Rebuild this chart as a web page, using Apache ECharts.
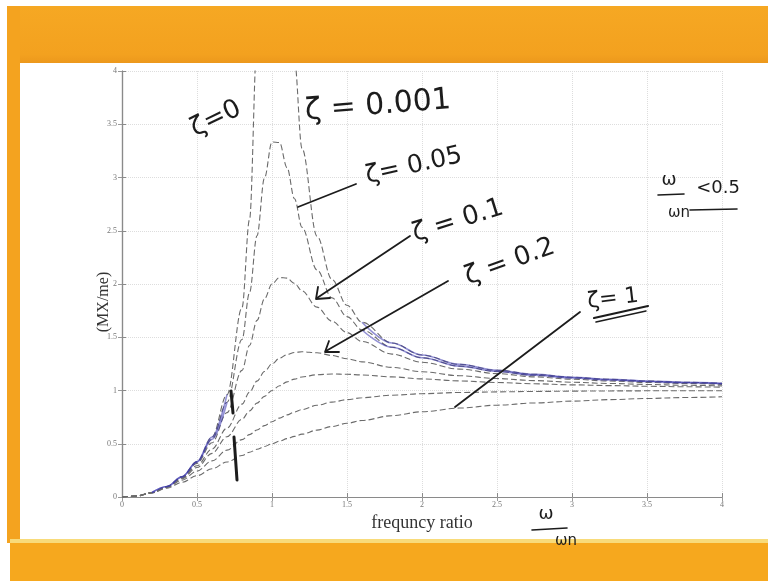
<!DOCTYPE html>
<html>
<head>
<meta charset="utf-8">
<script src="https://cdn.jsdelivr.net/npm/echarts@6/dist/echarts.min.js"></script>
<style>html,body{margin:0;padding:0;background:#fff;}#c{width:768px;height:581px;}</style>
</head>
<body>
<div id="c"></div>
<script>
// frequency ratio samples (x)
const ratio = [0,0.1,0.2,0.3,0.4,0.5,0.6,0.7,0.8,0.85,0.9,0.95,1.0,1.05,1.1,1.15,1.2,1.3,1.4,1.5,1.6,1.8,2.0,2.25,2.5,2.75,3.0,3.25,3.5,3.75,4.0];
// MX/me
const zeta0   = [0,0.010,0.042,0.099,0.190,0.333,0.563,0.961,1.778,2.604, 4.263,9.26,null,10.76,5.762,4.101,3.273,2.449,2.042,1.800, 1.641,1.446,1.333,1.246,1.190,1.152,1.125,1.105,1.089,1.077, 1.067];
const zeta015 = [0,0.010,0.042,0.098,0.189,0.327,0.542,0.889,1.479,1.917, 2.453,2.996,3.333,3.329,3.093,2.801,2.533,2.132,1.870,1.694, 1.568,1.406,1.307,1.229,1.179,1.143,1.118,1.099,1.084,1.073, 1.063];
const zeta025 = [0,0.010,0.041,0.098,0.185,0.316,0.509,0.792,1.189,1.423, 1.658,1.861,2.000,2.061,2.055,2.006,1.935,1.783,1.650,1.544, 1.460,1.342,1.265,1.201,1.158,1.128,1.106,1.089,1.076,1.066, 1.057];
const zeta04  = [0,0.010,0.041,0.096,0.178,0.294,0.450,0.647,0.872,0.984, 1.088,1.178,1.250,1.303,1.337,1.357,1.364,1.354,1.329,1.298, 1.269,1.217,1.176,1.139,1.112,1.093,1.078,1.066,1.057,1.049, 1.043];
const zeta05  = [0,0.010,0.041,0.094,0.172,0.277,0.410,0.566,0.730,0.808, 0.881,0.945,1.000,1.045,1.081,1.107,1.127,1.148,1.155,1.152, 1.146,1.128,1.109,1.090,1.075,1.063,1.053,1.046,1.040,1.035, 1.031];
const zeta07  = [0,0.010,0.040,0.090,0.158,0.243,0.339,0.440,0.539,0.586, 0.629,0.670,0.707,0.741,0.771,0.798,0.821,0.861,0.891,0.914, 0.932,0.956,0.970,0.981,0.987,0.991,0.994,0.996,0.997,0.998, 0.998];
const zeta1   = [0,0.010,0.038,0.083,0.138,0.200,0.265,0.329,0.390,0.420, 0.448,0.474,0.500,0.524,0.548,0.569,0.590,0.628,0.662,0.692, 0.719,0.764,0.800,0.835,0.862,0.883,0.900,0.914,0.925,0.934, 0.941];
const xTicks = [0,0.5,1,1.5,2,2.5,3,3.5,4];
const yTicks = [0,0.5,1,1.5,2,2.5,3,3.5,4];

const chart = echarts.init(document.getElementById('c'), null, {renderer:'canvas'});

function pairs(arr){ return ratio.map((r,i)=>[r, arr[i]]); }
function bluePart(arr){ return ratio.map((r,i)=> ((i>=2 && i<=7) || i>=20) ? [r, arr[i]] : [r, null]); }

const dashed = {color:'#6b6b6b', width:1.1, type:[6,3]};
const curves = [zeta0, zeta015, zeta025, zeta04, zeta05, zeta07, zeta1];
const series = curves.map(c => ({
  type:'line', data:pairs(c), showSymbol:false, symbol:'none',
  smooth:0.35, smoothMonotone:'x', lineStyle:dashed, clip:true, z:3
}));
[zeta0, zeta015].forEach(c => series.push({
  type:'line', data:bluePart(c), showSymbol:false, symbol:'none',
  smooth:0.35, smoothMonotone:'x', connectNulls:false,
  lineStyle:{color:'#3b36b0', width:1.6, opacity:0.55}, clip:true, z:4
}));

const ink = '#1c1c1c';
const hand = 'DejaVu Sans';
function txt(x,y,s,size,rot){
  return {type:'text', x:x, y:y, rotation:rot||0, z:50,
    style:{text:s, x:0, y:0, fill:ink, font:'normal '+size+'px "'+hand+'"', textAlign:'center', textVerticalAlign:'middle'}};
}
function ln(x1,y1,x2,y2,w){
  return {type:'line', z:50, shape:{x1:x1,y1:y1,x2:x2,y2:y2}, style:{stroke:ink, lineWidth:w||1.8, lineCap:'round'}};
}
function poly(pts,w){
  return {type:'polyline', z:50, shape:{points:pts}, style:{stroke:ink, lineWidth:w||1.8, fill:null, lineCap:'round', lineJoin:'round'}};
}

const option = {
  animation:false,
  backgroundColor:'#ffffff',
  grid:{left:122, right:46, top:71, bottom:84, show:false},
  xAxis:[{
    type:'value', min:0, max:4, interval:0.5,
    name:'frequncy ratio', nameLocation:'middle', nameGap:16,
    nameTextStyle:{fontFamily:'Liberation Serif', fontSize:18, color:'#333'},
    axisLine:{show:true, lineStyle:{color:'#8a8a8a', width:1.2}},
    axisTick:{show:true, inside:true, length:4, lineStyle:{color:'#8a8a8a'}},
    axisLabel:{fontFamily:'Liberation Serif', fontSize:8, color:'#777', margin:4,
      formatter:v=> xTicks.includes(v) ? String(v) : ''},
    splitLine:{show:true, lineStyle:{color:'#dddddd', type:'dotted'}}
  },{
    type:'value', min:0, max:4, interval:0.5, position:'top',
    axisLine:{show:true, lineStyle:{color:'#8a8a8a', width:1.2}},
    axisTick:{show:true, inside:true, length:4, lineStyle:{color:'#9a9a9a'}},
    axisLabel:{show:false}, splitLine:{show:false}
  }],
  yAxis:[{
    type:'value', min:0, max:4, interval:0.5,
    axisLine:{show:true, lineStyle:{color:'#8a8a8a', width:1.2}},
    axisTick:{show:true, inside:true, length:4, lineStyle:{color:'#8a8a8a'}},
    axisLabel:{fontFamily:'Liberation Serif', fontSize:8, color:'#777', margin:5,
      formatter:v=> yTicks.includes(v) ? String(v) : ''},
    splitLine:{show:true, lineStyle:{color:'#dddddd', type:'dotted'}}
  },{
    type:'value', min:0, max:4, interval:0.5, position:'right',
    axisLine:{show:true, lineStyle:{color:'#8a8a8a', width:1.2}},
    axisTick:{show:true, inside:true, length:4, lineStyle:{color:'#9a9a9a'}},
    axisLabel:{show:false}, splitLine:{show:false}
  }],
  series:series,
  graphic:[
    // slide frame
    {type:'rect', z:-10, shape:{x:7,y:6,width:761,height:57},
      style:{fill:new echarts.graphic.LinearGradient(0,0,0,1,[{offset:0,color:'#F6A823'},{offset:0.85,color:'#F3A11F'},{offset:1,color:'#EC981C'}])}},
    {type:'rect', z:-10, shape:{x:7,y:6,width:13,height:537}, style:{fill:'#F4A31F'}},
    {type:'rect', z:-10, shape:{x:10,y:539,width:758,height:5}, style:{fill:'#F8DB7A'}},
    {type:'rect', z:-10, shape:{x:10,y:543,width:758,height:38}, style:{fill:'#F6A81E'}},
    // y axis title
    {type:'text', x:104, y:302, rotation:Math.PI/2, z:20,
      style:{text:'(MX/me)', x:0, y:0, fill:'#333', font:'normal 16px "Liberation Serif"', textAlign:'center', textVerticalAlign:'middle'}},
    // handwritten notes
    txt(216,119,'ζ=0',26,0.45),
    txt(378,106,'ζ = 0.001',30,0.08),
    txt(414,166,'ζ= 0.05',25,0.22),
    ln(298,207,356,184),
    txt(458,221,'ζ = 0.1',26,0.3),
    ln(410,236,317,298),
    poly([[318,287],[316,299],[330,298]]),
    txt(510,262,'ζ = 0.2',26,0.35),
    ln(448,281,326,351),
    poly([[329,341],[325,352],[339,352]]),
    txt(613,299,'ζ= 1',22,0.12),
    ln(594,318,648,306,2.2),
    ln(596,322,646,311,1.5),
    ln(580,312,455,407),
    txt(669,180,'ω',18,0),
    ln(658,195,684,194,1.6),
    txt(679,213,'ωn',15,0),
    ln(690,210,737,209,1.6),
    txt(718,188,'<0.5',18,0),
    txt(546,514,'ω',18,0),
    ln(532,530,567,528,1.6),
    txt(566,541,'ωn',15,0),
    ln(231,391,233,413,3),
    ln(234,437,237,480,3)
  ]
};
chart.setOption(option);
</script>
</body>
</html>
